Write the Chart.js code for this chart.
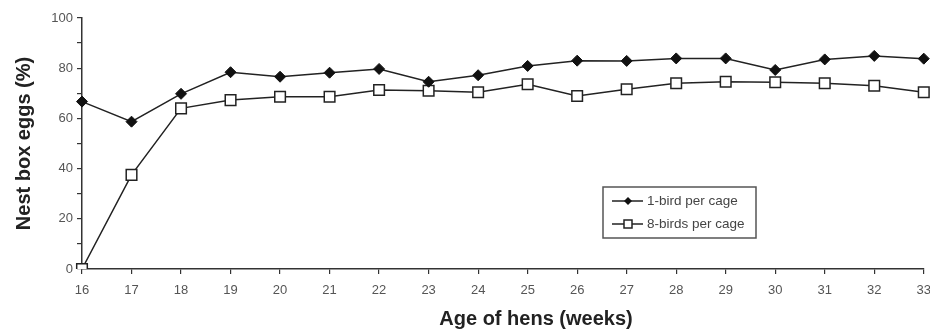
<!DOCTYPE html>
<html>
<head>
<meta charset="utf-8">
<script src="https://cdn.jsdelivr.net/npm/chart.js@4.4.1/dist/chart.umd.min.js"></script>
<style>
  html, body { margin: 0; padding: 0; background: #fff; overflow: hidden; }
  #wrap { width: 940px; height: 330px; }
</style>
</head>
<body>
<div id="wrap"><canvas id="chart1" width="940" height="330"></canvas></div>
<script>
var weeks = ['16','17','18','19','20','21','22','23','24','25','26','27','28','29','30','31','32','33'];
var oneBird = [66.7, 58.7, 69.8, 78.4, 76.6, 78.2, 79.7, 74.6, 77.2, 80.9, 83.0, 82.9, 83.9, 83.9, 79.3, 83.5, 84.9, 83.8];
var eightBirds = [0, 37.5, 64.0, 67.3, 68.6, 68.6, 71.3, 71.0, 70.4, 73.6, 68.9, 71.6, 74.0, 74.6, 74.4, 74.0, 73.0, 70.4];
var seriesNames = ['1-bird per cage', '8-birds per cage'];
var yTitle = 'Nest box eggs (%)';
var xTitle = 'Age of hens (weeks)';

// legend box inside the plot + x axis title
var extras = {
    id: 'extras',
    afterDraw: function(chart) {
        var ctx = chart.ctx;
        ctx.save();
        // x title
        ctx.fillStyle = '#222';
        ctx.font = 'bold 20px "Liberation Sans", Arial, sans-serif';
        ctx.textAlign = 'center';
        ctx.textBaseline = 'middle';
        ctx.fillText(xTitle, 536, 319);

        // legend
        var bx = 603, by = 187, bw = 153, bh = 51;
        ctx.strokeStyle = '#555';
        ctx.lineWidth = 1.5;
        ctx.strokeRect(bx, by, bw, bh);
        ctx.font = '13.5px "Liberation Sans", Arial, sans-serif';
        ctx.textAlign = 'left';
        for (var i = 0; i < chart.data.datasets.length; i++) {
            var ds = chart.data.datasets[i];
            var yy = by + 14 + i * 23;
            ctx.strokeStyle = '#222';
            ctx.lineWidth = 1.5;
            ctx.beginPath();
            ctx.moveTo(bx + 9, yy);
            ctx.lineTo(bx + 40, yy);
            ctx.stroke();
            var mx = bx + 25;
            if (ds.pointStyle === 'rectRot') {
                ctx.fillStyle = '#111';
                ctx.beginPath();
                ctx.moveTo(mx, yy - 4);
                ctx.lineTo(mx + 4, yy);
                ctx.lineTo(mx, yy + 4);
                ctx.lineTo(mx - 4, yy);
                ctx.closePath();
                ctx.fill();
            } else {
                ctx.fillStyle = '#fff';
                ctx.fillRect(mx - 4, yy - 4, 8, 8);
                ctx.strokeRect(mx - 4, yy - 4, 8, 8);
            }
            ctx.fillStyle = '#444';
            ctx.fillText(ds.label, bx + 44, yy);
        }
        ctx.restore();
    }
};

var ctx1 = document.getElementById('chart1').getContext('2d');
var chart1 = new Chart(ctx1, {
    type: 'line',
    data: {
        labels: weeks,
        datasets: [{
            label: seriesNames[0],
            data: oneBird,
            borderColor: '#222',
            borderWidth: 1.5,
            pointStyle: 'rectRot',
            pointRadius: 5.5,
            pointBackgroundColor: '#111',
            pointBorderColor: '#111',
            pointBorderWidth: 1,
            tension: 0
        }, {
            label: seriesNames[1],
            data: eightBirds,
            borderColor: '#222',
            borderWidth: 1.5,
            pointStyle: 'rect',
            pointRadius: 7.5,
            pointBackgroundColor: '#fff',
            pointBorderColor: '#222',
            pointBorderWidth: 1.5,
            tension: 0
        }]
    },
    options: {
        responsive: false,
        animation: false,
        layout: { padding: { top: 18, right: 15, left: 0, bottom: 0 } },
        plugins: {
            legend: { display: false },
            tooltip: { enabled: false }
        },
        scales: {
            x: {
                offset: false,
                grid: { drawOnChartArea: false, drawTicks: true, tickLength: 5, color: '#333', lineWidth: 1.2 },
                border: { display: true, color: '#333', width: 1.5 },
                ticks: { color: '#555', font: { size: 13, family: '"Liberation Sans", Arial, sans-serif' }, padding: 9, maxRotation: 0, autoSkip: false },
                afterFit: function(scale) { scale.height = 61; }
            },
            y: {
                min: 0,
                max: 100,
                grid: { drawOnChartArea: false, drawTicks: true, tickLength: 5, color: '#333', lineWidth: 1.2 },
                border: { display: true, color: '#333', width: 1.5 },
                ticks: {
                    stepSize: 10,
                    color: '#555',
                    font: { size: 13, family: '"Liberation Sans", Arial, sans-serif' },
                    padding: 4,
                    callback: function(v) { return v % 20 === 0 ? v : ''; }
                },
                title: {
                    display: true,
                    text: yTitle,
                    color: '#222',
                    font: { size: 20, weight: 'bold', family: '"Liberation Sans", Arial, sans-serif' },
                    padding: { top: 12, bottom: 10 }
                },
                afterFit: function(scale) { scale.width = 82; }
            }
        }
    },
    plugins: [extras]
});
</script>
</body>
</html>
